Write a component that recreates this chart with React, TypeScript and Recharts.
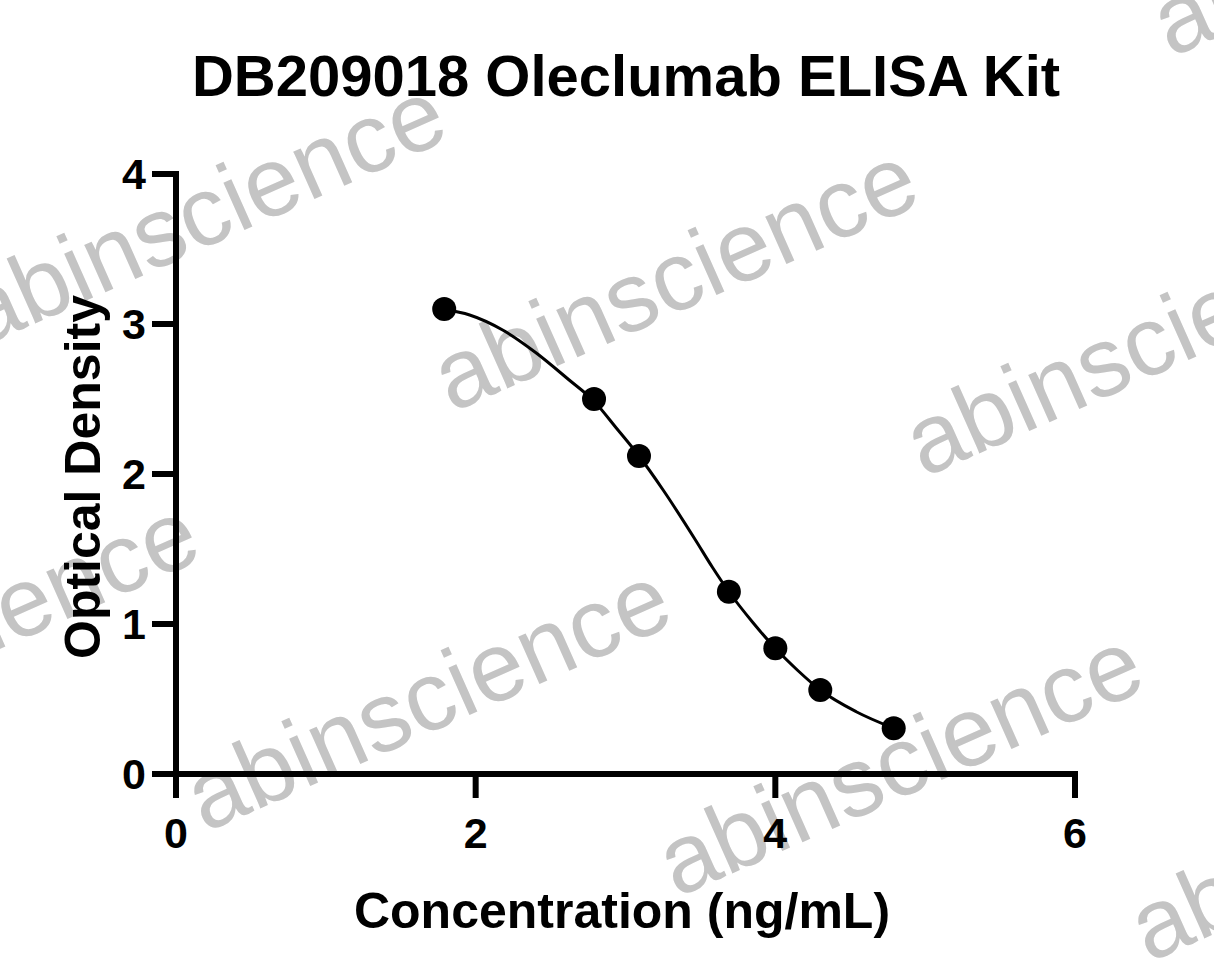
import React from 'react';
import { ComposedChart, Line, Scatter, XAxis, YAxis } from 'recharts';

// Measured standards (x: concentration axis value, y: optical density)
const concentrations = [1.79, 2.79, 3.09, 3.69, 4.0, 4.3, 4.79];
const opticalDensity = [3.1, 2.5, 2.12, 1.215, 0.838, 0.56, 0.305];

// Fitted curve
const curveX = [1.79, 1.96, 2.18, 2.4, 2.62, 2.79, 2.94, 3.09, 3.25, 3.47, 3.58, 3.69, 3.85, 4.0, 4.15, 4.3, 4.54, 4.79];
const curveY = [3.098, 3.06, 2.96, 2.81, 2.63, 2.485, 2.305, 2.12, 1.895, 1.555, 1.378, 1.215, 1.01, 0.838, 0.69, 0.56, 0.415, 0.305];

const xTicks = [0, 2, 4, 6];
const yTicks = [0, 1, 2, 3, 4];

const title = 'DB209018 Oleclumab ELISA Kit';
const xTitle = 'Concentration (ng/mL)';
const yTitle = 'Optical Density';
const watermark = 'abinscience';

const points = concentrations.map((x, i) => ({ x, y: opticalDensity[i] }));
const curve = curveX.map((x, i) => ({ x, y: curveY[i] }));

const FONT = '"Liberation Sans", Arial, Helvetica, sans-serif';
const W = 1214;
const H = 978;
const TICK_FONT = 43;

function Watermarks() {
  const items: { cx: number; cy: number }[] = [];
  for (let a = -3; a <= 3; a++) {
    for (let b = -3; b <= 3; b++) {
      const cx = 678 + a * 472 + b * -247;
      const cy = 285 + a * 65 + b * 420;
      if (cx > -320 && cx < W + 320 && cy > -160 && cy < H + 160) items.push({ cx, cy });
    }
  }
  return (
    <g>
      {items.map((p, i) => (
        <text
          key={i}
          transform={`translate(${p.cx},${p.cy}) rotate(-24)`}
          y={25}
          textAnchor="middle"
          fontFamily={FONT}
          fontSize={98}
          fill="#c4c4c4"
        >
          {watermark}
        </text>
      ))}
    </g>
  );
}

const circleShape = (props: any) => <circle cx={props.cx} cy={props.cy} r={12} fill="#000" />;

const XTick = (props: any) => (
  <text
    x={props.x}
    y={props.y}
    dy="0.7em"
    textAnchor="middle"
    fontFamily={FONT}
    fontWeight="bold"
    fontSize={TICK_FONT}
    fill="#000"
  >
    {props.payload.value}
  </text>
);

const YTick = (props: any) => (
  <text
    x={props.x}
    y={props.y}
    dy="0.36em"
    textAnchor="end"
    fontFamily={FONT}
    fontWeight="bold"
    fontSize={TICK_FONT}
    fill="#000"
  >
    {props.payload.value}
  </text>
);

export default function App() {
  const lineStyle = { stroke: '#000', strokeWidth: 6 } as any;
  return (
    <div style={{ position: 'absolute', left: 0, top: 0, width: W, height: H, background: '#fff' }}>
      <svg width={W} height={H} style={{ position: 'absolute', left: 0, top: 0 }}>
        <Watermarks />
        <text x={626} y={96} textAnchor="middle" fontFamily={FONT} fontWeight="bold" fontSize={58} fill="#000">
          {title}
        </text>
        <text x={622} y={928} textAnchor="middle" fontFamily={FONT} fontWeight="bold" fontSize={50} fill="#000">
          {xTitle}
        </text>
        <text
          transform="translate(100,477) rotate(-90)"
          textAnchor="middle"
          fontFamily={FONT}
          fontWeight="bold"
          fontSize={50}
          fill="#000"
        >
          {yTitle}
        </text>
      </svg>
      <div style={{ position: 'absolute', left: 0, top: 0 }}>
        <ComposedChart width={W} height={H} margin={{ top: 174, right: 139, bottom: 144, left: 116 }}>
          <XAxis
            type="number"
            dataKey="x"
            domain={[0, 6]}
            ticks={xTicks}
            height={60}
            tickSize={24}
            tickMargin={20}
            tick={XTick}
            tickLine={lineStyle}
            axisLine={{ ...lineStyle, strokeLinecap: 'square' }}
            allowDataOverflow
          />
          <YAxis
            type="number"
            domain={[0, 4]}
            ticks={yTicks}
            width={60}
            tickSize={24}
            tickMargin={6}
            tick={YTick}
            tickLine={lineStyle}
            axisLine={{ ...lineStyle, strokeLinecap: 'square' }}
            allowDataOverflow
          />
          <Line
            data={curve}
            dataKey="y"
            type="monotone"
            stroke="#000"
            strokeWidth={3}
            dot={false}
            activeDot={false}
            isAnimationActive={false}
          />
          <Scatter data={points} dataKey="y" fill="#000" shape={circleShape} isAnimationActive={false} />
        </ComposedChart>
      </div>
    </div>
  );
}
